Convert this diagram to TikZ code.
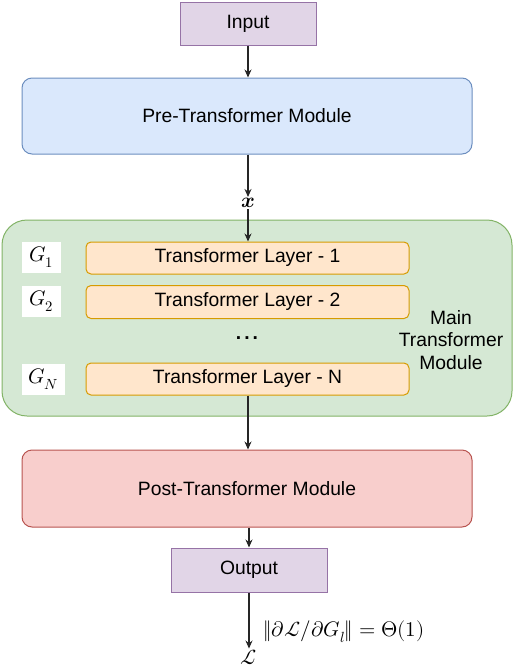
\documentclass[tikz,border=0pt]{standalone}
\usepackage{amsmath}
\usepackage{fontspec}
\usepackage{unicode-math}
\setmainfont{Liberation Sans}
\setmathfont{Latin Modern Math}
\usetikzlibrary{arrows.meta}

\definecolor{inFill}{HTML}{E1D5E7}\definecolor{inLine}{HTML}{9673A6}
\definecolor{preFill}{HTML}{DAE8FC}\definecolor{preLine}{HTML}{6C8EBF}
\definecolor{mainFill}{HTML}{D5E8D4}\definecolor{mainLine}{HTML}{82B366}
\definecolor{layFill}{HTML}{FFE6CC}\definecolor{layLine}{HTML}{D79B00}
\definecolor{postFill}{HTML}{F8CECC}\definecolor{postLine}{HTML}{B85450}

\tikzset{
  box/.style={draw,line width=1pt,inner sep=0pt,font=\fontsize{19.3}{22.5}\selectfont},
  io/.style={box,fill=inFill,draw=inLine},
  module/.style={box,rounded corners=10pt,minimum width=450pt,minimum height=76pt},
  layer/.style={box,fill=layFill,draw=layLine,rounded corners=5pt,minimum width=323pt},
  glab/.style={fill=white,inner sep=0pt,minimum height=31pt,font=\fontsize{21}{21}\selectfont},
  mathlab/.style={inner sep=1pt,font=\fontsize{21}{21}\selectfont},
  flow/.style={draw=black!85,line width=1.2pt,-{Stealth[length=8pt,width=7pt]}}
}

\begin{document}
\begin{tikzpicture}[x=1pt,y=-1pt]
    \useasboundingbox (0,0) rectangle (514,670);
    \node[io,minimum width=136pt,minimum height=43pt] (input) at (248,23.5) {Input};
    \node[module,fill=preFill,draw=preLine] (pre) at (247,116) {Pre-Transformer Module};
    \node[mathlab] (x) at (248,203) {$\symbfit{x}$};
    \node[box,fill=mainFill,draw=mainLine,rounded corners=25pt,minimum width=510pt,minimum height=196pt] (main) at (257,318) {};
    \node[layer,minimum height=32pt] (l1) at (247.5,258) {Transformer Layer - 1};
    \node[layer,minimum height=33pt] (l2) at (247.5,302) {Transformer Layer - 2};
    \node[layer,minimum height=32pt] (lN) at (247.5,379) {Transformer Layer - N};
    \node[glab,minimum width=39pt] (g1) at (41.5,257) {$G_1$};
    \node[glab,minimum width=39pt] (g2) at (41.5,301) {$G_2$};
    \node[glab,minimum width=43pt] (gN) at (43.5,379) {$G_N$};
    \node[font=\fontsize{19.3}{22.5}\selectfont\bfseries] (dots) at (247,338) {.\hspace{3pt}.\hspace{3pt}.};
    \node[font=\fontsize{19.3}{22.5}\selectfont,align=center] (mainlab) at (451,340) {Main\\Transformer\\Module};
    \node[module,fill=postFill,draw=postLine,minimum height=77pt] (post) at (247,488.5) {Post-Transformer Module};
    \node[io,minimum width=156pt,minimum height=44pt] (output) at (249,570) {Output};
    \node[mathlab] (loss) at (249,657) {$\mathcal{L}$};

    \draw[flow] (input) -- (input.south |- pre.north);
    \draw[flow] (pre.south -| x) -- (x);
    \draw[flow] (x) -- (x |- l1.north);
    \draw[flow] (lN.south -| x) -- (x |- post.north);
    \draw[flow] (post.south -| output) -- (output);
    \draw[flow] (output) -- (loss)
      node[pos=0.7,right=13pt,mathlab] (grad) {$\|\partial\mathcal{L}/\partial G_l\| = \Theta(1)$};
\end{tikzpicture}
\end{document}
